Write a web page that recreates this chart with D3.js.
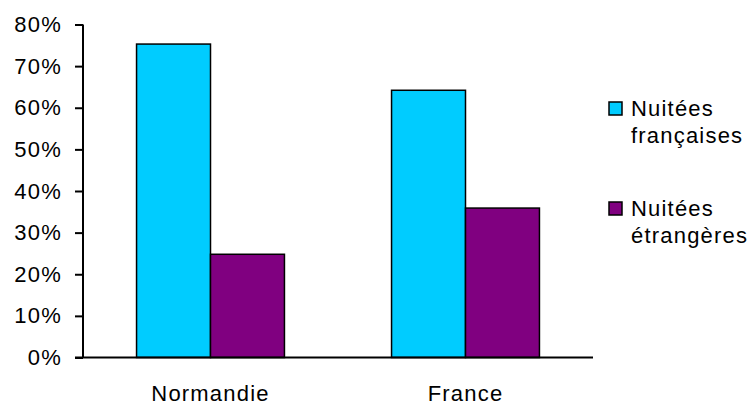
<!DOCTYPE html>
<html>
<head>
<meta charset="utf-8">
<script src="https://cdn.jsdelivr.net/npm/d3@7"></script>
<style>
html,body{margin:0;padding:0;background:#fff;}
svg text{font-family:"Liberation Sans",Arial,sans-serif;fill:#000;}
</style>
</head>
<body>
<svg id="chart" width="750" height="405"></svg>
<script>
const categories = ["Normandie", "France"];
const seriesNames = ["Nuitées françaises", "Nuitées étrangères"];
const legendLines = [["Nuitées", "françaises"], ["Nuitées", "étrangères"]];
const francaises = [75.3, 64.2];
const etrangeres = [24.8, 35.9];
const yTicks = [0, 10, 20, 30, 40, 50, 60, 70, 80];
const colors = ["#00CCFF", "#800080"];

const svg = d3.select("#chart");
const pLeft = 83, pRight = 593, pTop = 24.5, pBottom = 357.5;
const fs = 22, ls = 1.2;

const x = d3.scaleBand().domain(categories).range([pLeft, pRight]).paddingInner(0.42).paddingOuter(0.21);
const xs = d3.scaleBand().domain(seriesNames).range([0, x.bandwidth()]);
const y = d3.scaleLinear().domain([0, 80]).range([pBottom, pTop]);

const data = categories.map((c, i) => ({cat: c, vals: [francaises[i], etrangeres[i]]}));

const g = svg.append("g");
data.forEach(d => {
  d.vals.forEach((v, j) => {
    g.append("rect")
      .attr("x", x(d.cat) + xs(seriesNames[j]))
      .attr("y", y(v))
      .attr("width", xs.bandwidth())
      .attr("height", y(0) - y(v))
      .attr("fill", colors[j])
      .attr("stroke", "#000")
      .attr("stroke-width", 1.5);
  });
});

// Y axis
const yAxis = d3.axisLeft(y).tickValues(yTicks).tickFormat(d => d + "%").tickSize(8).tickPadding(13);
const ya = svg.append("g").attr("transform", `translate(${pLeft},0)`).call(yAxis);
ya.select(".domain").attr("stroke", "#000").attr("stroke-width", 2).attr("d", `M0,${pTop}V${pBottom}`);
ya.selectAll(".tick line").attr("stroke", "#000").attr("stroke-width", 2);
ya.selectAll(".tick text").attr("font-size", fs).attr("font-family", "Liberation Sans, Arial, sans-serif").attr("fill", "#000").attr("letter-spacing", ls);

// X axis
const xAxis = d3.axisBottom(x).tickSize(0).tickPadding(28);
const xa = svg.append("g").attr("transform", `translate(0,${pBottom})`).call(xAxis);
xa.select(".domain").attr("stroke", "#000").attr("stroke-width", 2).attr("d", `M${pLeft - 8},0H${pRight}`);
xa.selectAll(".tick text").attr("font-size", fs).attr("font-family", "Liberation Sans, Arial, sans-serif").attr("fill", "#000").attr("letter-spacing", ls);

// Legend
const legY = [108.5, 208.5];
const leg = svg.append("g");
legendLines.forEach((lines, i) => {
  leg.append("rect").attr("x", 609).attr("y", legY[i] - 6.5).attr("width", 13).attr("height", 13)
    .attr("fill", colors[i]).attr("stroke", "#000").attr("stroke-width", 1.5);
  lines.forEach((t, k) => {
    leg.append("text").attr("x", 631).attr("y", legY[i] + 7.5 + k * 26.5)
      .attr("font-size", fs).attr("letter-spacing", ls).text(t);
  });
});
</script>
</body>
</html>
